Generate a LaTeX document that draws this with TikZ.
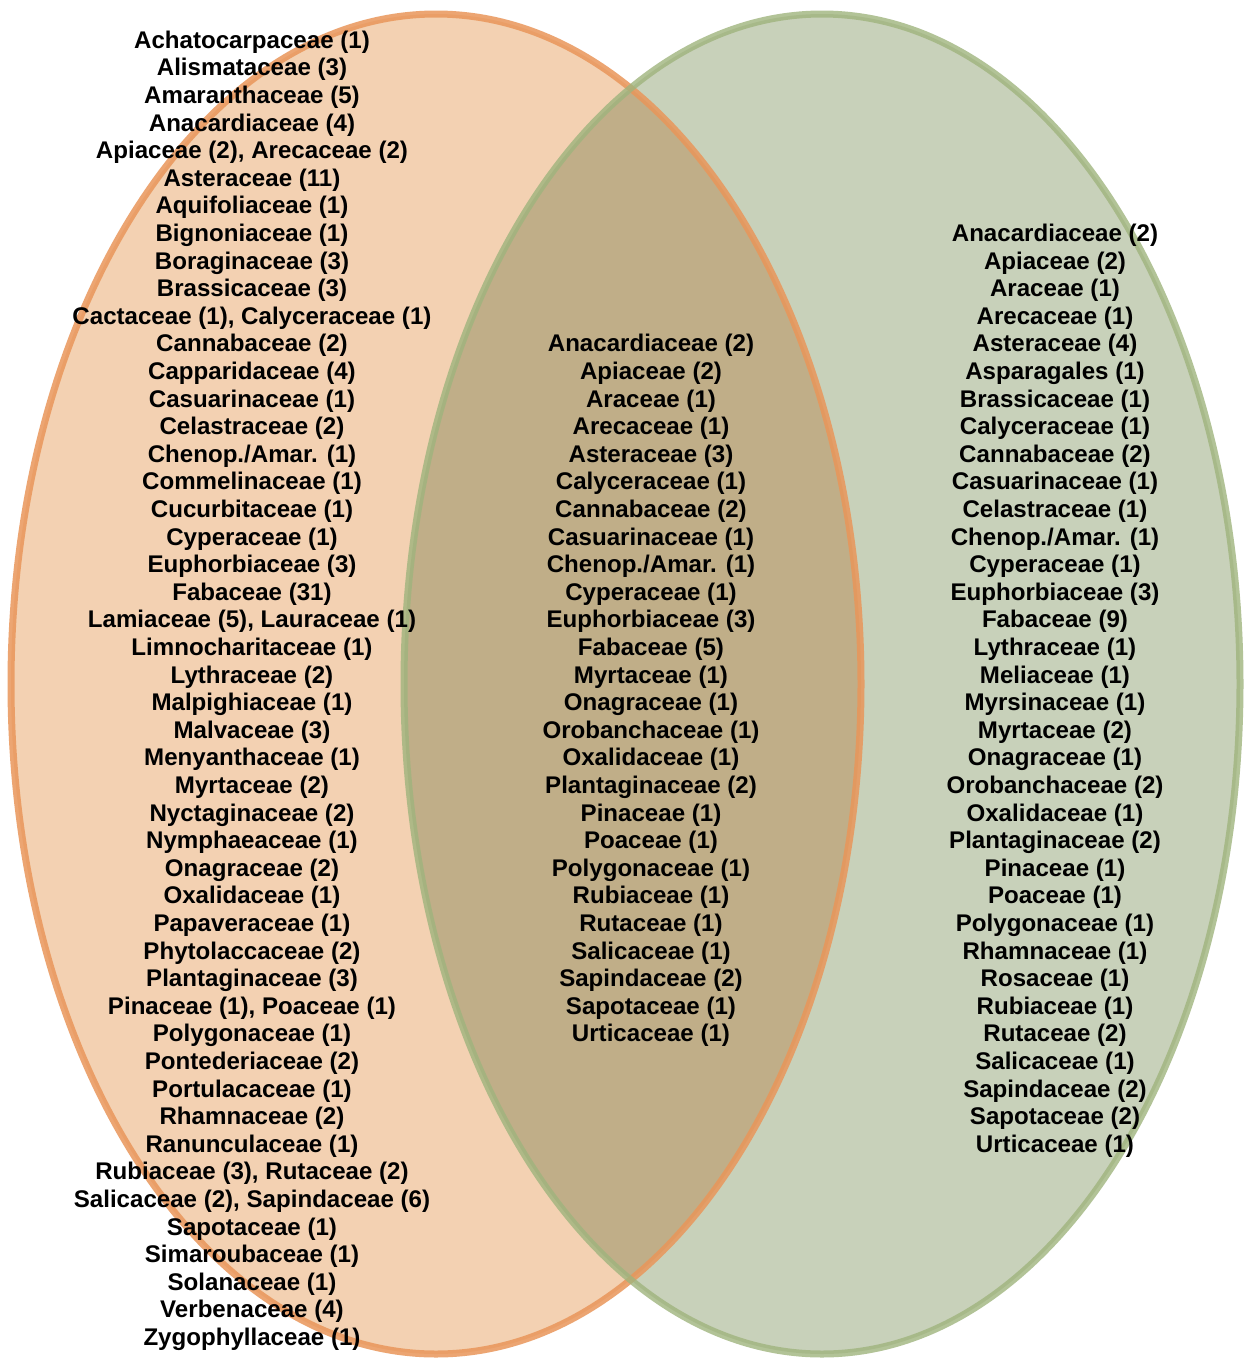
\documentclass[tikz,border=0pt]{standalone}
\usepackage{fontspec}
\setmainfont{Liberation Sans}
\definecolor{leftfill}{HTML}{F3D1B2}
\definecolor{rightfill}{HTML}{C8D1BA}
\definecolor{overfill}{HTML}{C0AE88}
\definecolor{leftline}{HTML}{E9965A}
\definecolor{rightline}{HTML}{9FB47D}
\begin{document}
\begin{tikzpicture}[x=1pt,y=-1pt,
  lbl/.style={font=\fontsize{24.1}{27.6}\selectfont\bfseries, inner sep=0pt, anchor=base, text=black},
  leftell/.style={draw=leftline, line width=7pt, draw opacity=0.85},
  rightell/.style={draw=rightline, line width=7pt, draw opacity=0.8}]
\useasboundingbox (0,0) rectangle (1247,1361);
\fill[white] (0,0) rectangle (1247,1361);
% fills
\fill[leftfill] (436,684) ellipse [x radius=425pt, y radius=670pt];
\fill[rightfill] (822,684) ellipse [x radius=418pt, y radius=670pt];
\begin{scope}
  \clip (436,684) ellipse [x radius=425pt, y radius=670pt];
  \fill[overfill] (822,684) ellipse [x radius=418pt, y radius=670pt];
\end{scope}
% outlines
\draw[leftell] (436,684) ellipse [x radius=425pt, y radius=670pt];
\draw[rightell] (822,684) ellipse [x radius=418pt, y radius=670pt];
% left column
\foreach \t [count=\i from 0] in {
  {Achatocarpaceae (1)},{Alismataceae (3)},{Amaranthaceae (5)},{Anacardiaceae (4)},
  {Apiaceae (2), Arecaceae (2)},{Asteraceae (11)},{Aquifoliaceae (1)},{Bignoniaceae (1)},
  {Boraginaceae (3)},{Brassicaceae (3)},{Cactaceae (1), Calyceraceae (1)},{Cannabaceae (2)},
  {Capparidaceae (4)},{Casuarinaceae (1)},{Celastraceae (2)},{Chenop./Amar. (1)},
  {Commelinaceae (1)},{Cucurbitaceae (1)},{Cyperaceae (1)},{Euphorbiaceae (3)},
  {Fabaceae (31)},{Lamiaceae (5), Lauraceae (1)},{Limnocharitaceae (1)},{Lythraceae (2)},
  {Malpighiaceae (1)},{Malvaceae (3)},{Menyanthaceae (1)},{Myrtaceae (2)},
  {Nyctaginaceae (2)},{Nymphaeaceae (1)},{Onagraceae (2)},{Oxalidaceae (1)},
  {Papaveraceae (1)},{Phytolaccaceae (2)},{Plantaginaceae (3)},{Pinaceae (1), Poaceae (1)},
  {Polygonaceae (1)},{Pontederiaceae (2)},{Portulacaceae (1)},{Rhamnaceae (2)},
  {Ranunculaceae (1)},{Rubiaceae (3), Rutaceae (2)},{Salicaceae (2), Sapindaceae (6)},{Sapotaceae (1)},
  {Simaroubaceae (1)},{Solanaceae (1)},{Verbenaceae (4)},{Zygophyllaceae (1)}}
  \node[lbl] (L\i) at (252,{48.3+27.6*\i}) {\t};
% middle column
\foreach \t [count=\i from 11] in {
  {Anacardiaceae (2)},{Apiaceae (2)},{Araceae (1)},{Arecaceae (1)},{Asteraceae (3)},
  {Calyceraceae (1)},{Cannabaceae (2)},{Casuarinaceae (1)},{Chenop./Amar. (1)},{Cyperaceae (1)},
  {Euphorbiaceae (3)},{Fabaceae (5)},{Myrtaceae (1)},{Onagraceae (1)},{Orobanchaceae (1)},
  {Oxalidaceae (1)},{Plantaginaceae (2)},{Pinaceae (1)},{Poaceae (1)},{Polygonaceae (1)},
  {Rubiaceae (1)},{Rutaceae (1)},{Salicaceae (1)},{Sapindaceae (2)},{Sapotaceae (1)},
  {Urticaceae (1)}}
  \node[lbl] (M\i) at (651,{48.3+27.6*\i}) {\t};
% right column
\foreach \t [count=\i from 7] in {
  {Anacardiaceae (2)},{Apiaceae (2)},{Araceae (1)},{Arecaceae (1)},{Asteraceae (4)},
  {Asparagales (1)},{Brassicaceae (1)},{Calyceraceae (1)},{Cannabaceae (2)},{Casuarinaceae (1)},
  {Celastraceae (1)},{Chenop./Amar. (1)},{Cyperaceae (1)},{Euphorbiaceae (3)},{Fabaceae (9)},
  {Lythraceae (1)},{Meliaceae (1)},{Myrsinaceae (1)},{Myrtaceae (2)},{Onagraceae (1)},
  {Orobanchaceae (2)},{Oxalidaceae (1)},{Plantaginaceae (2)},{Pinaceae (1)},{Poaceae (1)},
  {Polygonaceae (1)},{Rhamnaceae (1)},{Rosaceae (1)},{Rubiaceae (1)},{Rutaceae (2)},
  {Salicaceae (1)},{Sapindaceae (2)},{Sapotaceae (2)},{Urticaceae (1)}}
  \node[lbl] (R\i) at (1055,{48.3+27.6*\i}) {\t};
\end{tikzpicture}
\end{document}
